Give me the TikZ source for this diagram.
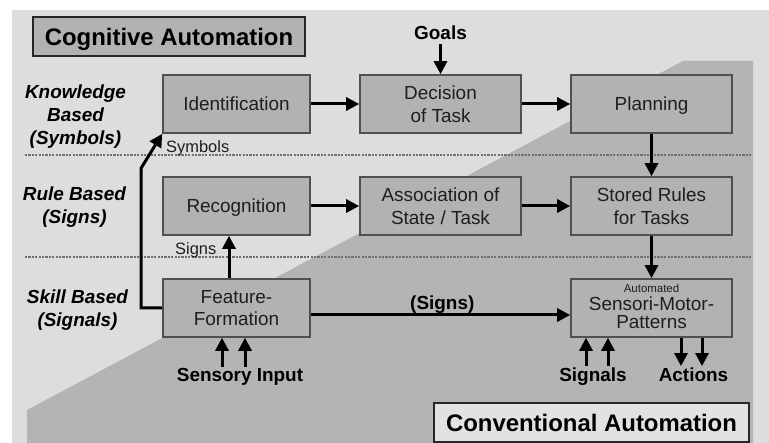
\documentclass[tikz,border=0pt]{standalone}
\usepackage{fontspec}
\setmainfont{Liberation Sans}
\usetikzlibrary{arrows.meta}
\definecolor{bglight}{HTML}{DDDDDD}
\definecolor{bgdark}{HTML}{B4B4B4}
\definecolor{boxfill}{HTML}{B2B2B2}
\definecolor{boxline}{HTML}{505050}
\definecolor{rulegray}{HTML}{707070}
\definecolor{inkgray}{HTML}{1E1E1E}
\definecolor{convfill}{HTML}{E2E2E2}

\begin{document}
\begin{tikzpicture}[x=1bp,y=-1bp,
  stagebox/.style={draw=boxline, line width=1.6bp, fill=boxfill, minimum height=58bp,
    inner sep=0pt, align=center, text depth=0pt, text=inkgray,
    font=\fontsize{19}{23}\selectfont},
  titlebox/.style={draw=black!85, line width=1.6bp, minimum height=39bp, inner sep=0pt,
    text depth=0pt, font=\bfseries\fontsize{24}{28}\selectfont},
  levellabel/.style={align=center, inner sep=0pt, font=\bfseries\itshape\fontsize{19}{23}\selectfont},
  iolabel/.style={inner sep=2bp, font=\bfseries\fontsize{19}{23}\selectfont},
  smalllabel/.style={inner sep=0pt, text=inkgray, font=\fontsize{16.5}{19}\selectfont},
  boxtext/.style={inner sep=0pt, text=inkgray, font=\fontsize{19}{23}\selectfont},
  separator/.style={draw=rulegray, line width=1.1bp, dash pattern=on 2.2bp off 1.2bp},
  arr/.style={-{Triangle[length=13bp,width=13bp]}, line width=3bp, draw=black}
]
\useasboundingbox (0,0) rectangle (769,443);

% background areas
\fill[white] (0,0) rectangle (769,443);
\fill[bglight] (12,10) rectangle (769,443);
\fill[bgdark] (27,443) -- (27,410) -- (683,61) -- (753,61) -- (753,443) -- cycle;

% level separators
\draw[separator] (25,155) -- (752,155);
\draw[separator] (25,257) -- (752,257);

% titles
\node[titlebox, fill=boxfill, minimum width=272bp] (cogn) at (169,36.5) {Cognitive Automation};
\node[titlebox, fill=convfill, minimum width=315bp] (conv) at (591.5,422.5) {Conventional Automation};

% level labels
\node[levellabel] (kb) at (75.5,117) {Knowledge\\Based\\(Symbols)};
\node[levellabel] (rb) at (74.5,207) {Rule Based\\(Signs)};
\node[levellabel] (sb) at (77.5,310) {Skill Based\\(Signals)};

% stages
\node[stagebox, minimum width=147bp] (ident) at (236.5,104) {Identification};
\node[stagebox, minimum width=161bp] (decis) at (440.5,104) {Decision\\of Task};
\node[stagebox, minimum width=161bp] (plan)  at (651.5,104) {Planning};
\node[stagebox, minimum width=147bp] (recog) at (236.5,206) {Recognition};
\node[stagebox, minimum width=161bp] (assoc) at (440.5,206) {Association of\\State / Task};
\node[stagebox, minimum width=161bp] (rules) at (651.5,206) {Stored Rules\\for Tasks};
\node[stagebox, minimum width=147bp] (feat)  at (236.5,308) {Feature-\\Formation};
\node[stagebox, minimum width=161bp] (smp)   at (651.5,308) {};
\node[inner sep=0pt, text=inkgray, font=\fontsize{11.5}{12}\selectfont, anchor=base] (smpa) at (651.5,293) {Automated};
\node[boxtext, anchor=base] (smpb) at (651.5,311) {Sensori-Motor-};
\node[boxtext, anchor=base] (smpc) at (651.5,329) {Patterns};

% inputs and outputs
\node[iolabel, inner sep=4bp] (goals) at (440.5,33) {Goals};
\node[iolabel, anchor=base] (sens) at (240,382) {Sensory Input};
\node[iolabel, anchor=base] (sig)  at (593,382) {Signals};
\node[iolabel, anchor=base] (act)  at (693.5,382) {Actions};

% connector labels
\node[smalllabel, anchor=base west] (symlbl) at (166,153) {Symbols};
\node[smalllabel, anchor=base west] (signlbl) at (175,255) {Signs};
\node[inner sep=0pt, anchor=base west, font=\bfseries\fontsize{19}{23}\selectfont] (signs2) at (410,310) {(Signs)};

% flow
\draw[arr] (goals) -- (decis);
\draw[arr] (ident) -- (decis);
\draw[arr] (decis) -- (plan);
\draw[arr] (plan) -- (rules);
\draw[arr] (recog) -- (assoc);
\draw[arr] (assoc) -- (rules);
\draw[arr] (rules) -- (smp);
\draw[arr] ([xshift=-7.5bp]feat.north) -- ([xshift=-7.5bp]recog.south);
\draw[arr] ([yshift=-7bp]feat.east) -- ([yshift=-7bp]smp.west);
\draw[arr] (feat.west) -- ++(-21,0) -- ++(0,-140) -- (ident.south west);

% sensory input, signals and actions
\coordinate (in1) at ([xshift=-14.5bp]feat.south);
\coordinate (in2) at ([xshift=8.5bp]feat.south);
\coordinate (in3) at ([xshift=-65.5bp]smp.south);
\coordinate (in4) at ([xshift=-43.5bp]smp.south);
\coordinate (out1) at ([xshift=29.5bp]smp.south);
\coordinate (out2) at ([xshift=50.5bp]smp.south);
\draw[arr] (in1 |- sens.north) -- (in1);
\draw[arr] (in2 |- sens.north) -- (in2);
\draw[arr] (in3 |- sig.north) -- (in3);
\draw[arr] (in4 |- sig.north) -- (in4);
\draw[arr] (out1) -- (out1 |- act.north);
\draw[arr] (out2) -- (out2 |- act.north);
\end{tikzpicture}
\end{document}
